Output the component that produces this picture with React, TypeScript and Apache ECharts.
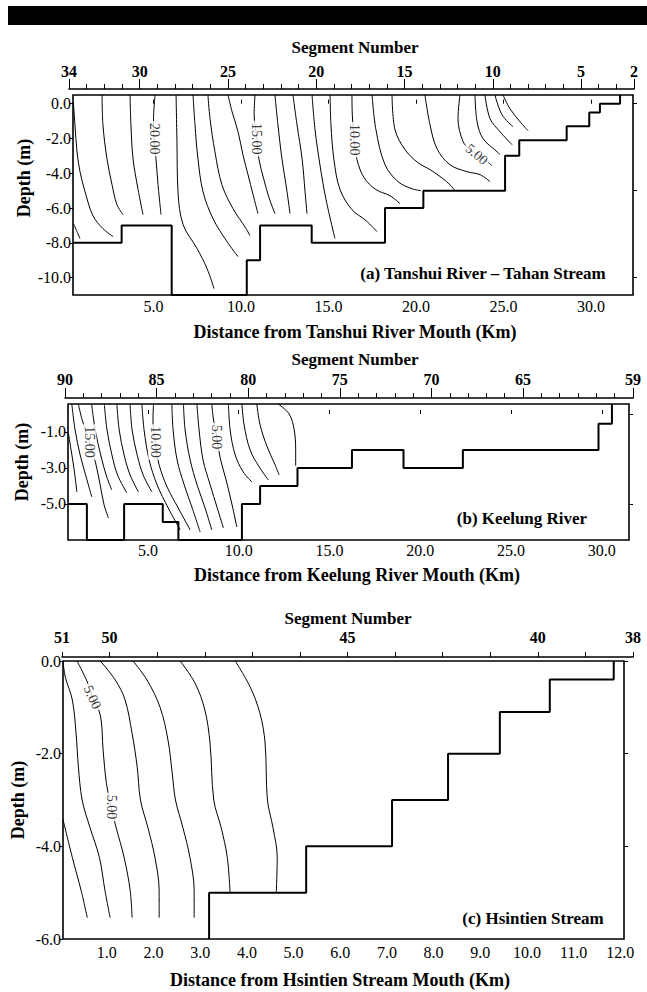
import React, { useEffect, useRef } from 'react';
import * as echarts from 'echarts';

const FONT = '"Liberation Serif", "Times New Roman", Times, serif';

// ---------------- (a) Tanshui River - Tahan Stream ----------------
const segmentsA = ['34','33','32','31','30','29','28','27','26','25','24','23','22','21','20','19','18','17','16','15','14','13','12','11','10','9','8','7','6','5','4','3','2'];
const segLabeledA = ['34','30','25','20','15','10','5','2'];
const distTicksA = [5, 10, 15, 20, 25, 30];
const depthTicksA = [0, -2, -4, -6, -8, -10];
const rightTicksA = [0, -5, -10];
// bed (river bottom) outline: [distance km, depth m], horizontal-then-vertical steps
const bedA = [[0.4,-8],[3.18,-7],[6.04,-11],[10.33,-9],[11.09,-7],[14.04,-8],[18.23,-6],[20.42,-5],[25.09,-3],[25.9,-2.1],[28.61,-1.3],[29.9,-0.5],[30.51,0],[31.66,0.5]];
const contoursA = [
  [[0.43,-6.9],[0.63,-7.36],[0.8,-7.76]],
  [[0.42,0.1],[0.51,-1.21],[0.63,-2.76],[0.8,-3.91],[1.09,-5.06],[1.54,-6.44],[2.11,-7.18],[2.69,-7.64]],
  [[2.06,0.5],[2.11,-1.21],[2.34,-3.16],[2.63,-4.66],[2.91,-5.8],[3.26,-6.38]],
  [[3.66,0.5],[3.71,-1.21],[3.83,-3.16],[4.11,-4.89],[4.4,-6.38]],
  [[5.09,0.5],[5.0,-0.92],[5.03,-2.01],[5.14,-3.16],[5.26,-4.66],[5.43,-6.38]],
  [[6.29,0.5],[6.34,-2.18],[6.4,-5.06],[6.69,-6.95],[7.49,-8.33],[8.06,-9.48],[8.46,-10.63]],
  [[7.26,0.5],[7.37,-1.21],[7.54,-3.16],[7.83,-5.06],[8.4,-6.61],[9.2,-7.93],[9.83,-8.79]],
  [[8.11,0.5],[8.23,-0.86],[8.51,-2.76],[8.91,-4.66],[9.54,-6.03],[10.29,-7.18],[10.51,-7.59]],
  [[9.26,0.5],[9.49,-0.46],[9.83,-1.61],[10.11,-2.93],[10.4,-4.08],[10.69,-5.23],[10.97,-6.32]],
  [[10.8,0.5],[10.75,-0.63],[10.91,-2.01],[11.03,-3.22],[11.31,-4.37],[11.6,-5.4],[11.94,-6.32]],
  [[11.94,0.5],[12.11,-1.21],[12.34,-3.16],[12.63,-5.06],[12.8,-6.32]],
  [[12.97,0.5],[13.2,-1.21],[13.49,-3.16],[13.66,-5.06],[13.77,-6.32]],
  [[14.06,0.5],[14.23,-1.49],[14.51,-3.51],[14.86,-5.52],[15.37,-7.76]],
  [[15.09,0.5],[15.14,-1.21],[15.31,-3.22],[15.66,-4.94],[16.34,-6.09],[17.14,-6.72],[17.77,-7.36]],
  [[16.34,0.5],[16.36,-0.63],[16.46,-2.07],[16.63,-3.22],[17.03,-4.25],[17.71,-4.94],[18.51,-5.29],[19.09,-5.75]],
  [[17.49,0.5],[17.71,-1.49],[18.23,-3.51],[18.97,-4.48],[19.77,-4.89],[20.29,-5.0]],
  [[18.63,0.5],[18.8,-1.49],[19.37,-2.64],[20.11,-3.39],[20.8,-3.79],[21.54,-4.31],[21.94,-4.66],[22.23,-5.0]],
  [[20.51,0.5],[20.8,-1.21],[21.2,-2.59],[21.94,-3.51],[22.91,-3.91],[23.66,-4.08],[24.23,-4.48]],
  [[22.51,0.5],[22.4,-0.86],[22.69,-2.18],[23.09,-2.64],[23.47,-2.91],[23.94,-3.22],[24.34,-3.56]],
  [[23.37,0.5],[23.49,-1.03],[23.83,-2.01],[24.63,-2.76],[24.8,-2.93]],
  [[23.94,0.5],[24.23,-0.86],[24.8,-1.61],[25.49,-2.36]],
  [[24.51,0.5],[24.91,-0.63],[25.54,-1.32]],
  [[24.97,0.5],[25.37,-0.29],[25.94,-1.03],[26.4,-1.55]],
];
const contourLabelsA = [
  { at: [5.03, -2.01], text: '20.00', rotate: -90 },
  { at: [10.91, -2.01], text: '15.00', rotate: -90 },
  { at: [16.46, -2.07], text: '10.00', rotate: -90 },
  { at: [23.47, -2.91], text: '5.00', rotate: -40 },
];

// ---------------- (b) Keelung River ----------------
const segmentsB = ['90','89','88','87','86','85','84','83','82','81','80','79','78','77','76','75','74','73','72','71','70','69','68','67','66','65','64','63','62','61','60','59'];
const segLabeledB = ['90','85','80','75','70','65','59'];
const distTicksB = [5, 10, 15, 20, 25, 30];
const depthTicksB = [-1, -3, -5];
const rightTicksB = [0, -5];
const bedB = [[0.6,-5],[1.64,-7],[3.69,-5],[5.82,-6],[6.68,-7],[10.18,-5],[11.18,-4],[13.24,-3],[16.24,-2],[19.08,-3],[22.35,-2],[29.82,-0.55],[30.56,0.55]];
const contoursB = [
  [[0.62,-1.06],[0.77,-2.0],[0.94,-3.11],[1.09,-4.33]],
  [[0.81,0.55],[0.99,-0.89],[1.27,-2.28],[1.6,-3.5],[1.91,-4.61]],
  [[1.17,0.55],[1.38,-0.33],[1.78,-1.56],[2.12,-2.72],[2.37,-3.94],[2.59,-5.06],[2.83,-5.78]],
  [[1.9,0.55],[2.1,-0.89],[2.4,-2.28],[2.7,-3.39],[3.01,-4.22]],
  [[2.6,0.55],[2.75,-0.89],[3.02,-2.28],[3.33,-3.39],[3.84,-4.39]],
  [[3.29,0.55],[3.42,-0.89],[3.69,-2.28],[4.02,-3.39],[4.48,-4.33]],
  [[4.02,0.55],[4.13,-0.89],[4.41,-2.28],[4.74,-3.39],[5.22,-4.33]],
  [[4.67,0.55],[4.79,-0.89],[5.07,-2.56],[5.51,-3.94],[6.12,-5.22],[6.78,-6.44]],
  [[5.31,0.55],[5.28,-0.33],[5.4,-1.56],[5.62,-2.83],[6.06,-4.06],[6.67,-5.22],[7.33,-6.44]],
  [[6.32,0.55],[6.39,-0.89],[6.61,-2.56],[7.0,-3.94],[7.44,-5.22],[7.88,-6.56]],
  [[6.96,0.55],[7.05,-0.89],[7.33,-2.56],[7.71,-3.94],[8.15,-5.22],[8.52,-6.44]],
  [[7.7,0.55],[7.82,-0.89],[8.04,-2.56],[8.43,-3.94],[8.82,-5.22],[9.16,-6.33]],
  [[8.52,0.55],[8.6,-0.22],[8.79,-1.28],[8.98,-2.44],[9.31,-3.67],[9.64,-5.06],[9.9,-6.28]],
  [[9.44,0.55],[9.53,-0.89],[9.81,-2.28],[10.25,-3.22],[10.73,-3.78]],
  [[10.18,0.55],[10.3,-0.61],[10.63,-2.0],[11.13,-2.94],[11.64,-3.67]],
  [[11.0,0.55],[11.18,-0.61],[11.57,-1.83],[11.96,-2.72],[12.23,-3.39]],
  [[12.18,0.55],[12.78,0.0],[13.06,-0.89],[13.14,-2.0],[13.14,-2.89]],
];
const contourLabelsB = [
  { at: [1.78, -1.56], text: '15.00', rotate: -90 },
  { at: [5.4, -1.56], text: '10.00', rotate: -90 },
  { at: [8.79, -1.28], text: '5.00', rotate: -90 },
];

// ---------------- (c) Hsintien Stream ----------------
const segmentsC = ['51','50','','','','','45','','','','40','','38'];
const distTicksC = [1, 2, 3, 4, 5, 6, 7, 8, 9, 10, 11, 12];
const depthTicksC = [0, -2, -4, -6];
const rightTicksC = [0, -2, -4];
// vertical-then-horizontal steps
const bedC = [[3.19,-6],[5.27,-5],[7.11,-4],[8.31,-3],[9.42,-2],[10.49,-1.1],[11.86,-0.4],[11.86,0]];
const contoursC = [
  [[0.06,-3.42],[0.26,-4.24],[0.45,-4.96],[0.58,-5.54]],
  [[0.06,0],[0.11,-0.35],[0.26,-0.84],[0.34,-1.56],[0.39,-2.29],[0.47,-3.0],[0.64,-3.6],[0.84,-4.24],[0.96,-4.96],[1.07,-5.54]],
  [[0.36,0],[0.58,-0.45],[0.69,-0.78],[0.86,-1.17],[0.92,-1.93],[0.99,-2.64],[1.09,-3.15],[1.2,-3.6],[1.37,-4.24],[1.5,-4.96],[1.54,-5.54]],
  [[0.86,0],[1.18,-0.41],[1.39,-0.84],[1.54,-1.56],[1.65,-2.29],[1.72,-3.0],[1.88,-3.6],[2.03,-4.24],[2.12,-4.96],[2.12,-5.54]],
  [[1.56,0],[1.86,-0.41],[2.14,-1.0],[2.31,-1.71],[2.4,-2.42],[2.47,-3.0],[2.63,-3.6],[2.78,-4.24],[2.87,-4.96],[2.87,-5.54]],
  [[2.57,0],[2.89,-0.48],[3.1,-1.06],[3.21,-1.77],[3.29,-3.0],[3.45,-3.6],[3.58,-4.24],[3.64,-5.0]],
  [[3.75,0],[4.07,-0.56],[4.28,-1.13],[4.39,-1.77],[4.44,-3.0],[4.56,-3.6],[4.65,-4.24],[4.63,-5.0]],
];
const contourLabelsC = [
  { at: [0.69, -0.78], text: '5.00', rotate: -65 },
  { at: [1.09, -3.15], text: '5.00', rotate: -90 },
];

const panels = [
  {
    segments: segmentsA, segLabeled: segLabeledA, distTicks: distTicksA, depthTicks: depthTicksA, rightTicks: rightTicksA,
    bed: bedA, bedStep: 'end', contours: contoursA, labels: contourLabelsA,
    xMin: 0.4, xMax: 32.4, yMin: -11, yMax: 0.5,
    box: { left: 73, top: 95, width: 560, height: 200 },
    seg: { left: 69, top: 88, width: 565 }, segMargin: 9, xLabelMargin: 3, topTicks: true, majorTicks: true,
  },
  {
    segments: segmentsB, segLabeled: segLabeledB, distTicks: distTicksB, depthTicks: depthTicksB, rightTicks: rightTicksB,
    bed: bedB, bedStep: 'end', contours: contoursB, labels: contourLabelsB,
    xMin: 0.6, xMax: 31.5, yMin: -7, yMax: 0.55,
    box: { left: 68, top: 404, width: 561, height: 136 },
    seg: { left: 65, top: 397, width: 568 }, segMargin: 10, xLabelMargin: 2, topTicks: true, majorTicks: true,
  },
  {
    segments: segmentsC, segLabeled: ['51','50','45','40','38'], distTicks: distTicksC, depthTicks: depthTicksC, rightTicks: rightTicksC,
    bed: bedC, bedStep: 'start', contours: contoursC, labels: contourLabelsC,
    xMin: 0.06, xMax: 12.08, yMin: -6, yMax: 0,
    box: { left: 63, top: 661, width: 561, height: 278 },
    seg: { left: 62, top: 656, width: 571 }, segMargin: 11, xLabelMargin: 5, topTicks: false, majorTicks: false,
  },
];

const titles = [
  { text: 'Segment Number', x: 355, y: 47, size: 17, rot: 0 },
  { text: 'Distance from Tanshui River Mouth (Km)', x: 355, y: 332, size: 18, rot: 0 },
  { text: 'Depth (m)', x: 24, y: 178, size: 18, rot: Math.PI / 2 },
  { text: '(a) Tanshui River \u2013 Tahan Stream', x: 483, y: 273, size: 17, rot: 0 },
  { text: 'Segment Number', x: 355, y: 359, size: 17, rot: 0 },
  { text: 'Distance from Keelung River Mouth (Km)', x: 357, y: 575, size: 18, rot: 0 },
  { text: 'Depth (m)', x: 22, y: 462, size: 18, rot: Math.PI / 2 },
  { text: '(b) Keelung River', x: 522, y: 518, size: 17, rot: 0 },
  { text: 'Segment Number', x: 348, y: 618, size: 17, rot: 0 },
  { text: 'Distance from Hsintien Stream Mouth (Km)', x: 340, y: 980, size: 18, rot: 0 },
  { text: 'Depth (m)', x: 18, y: 800, size: 18, rot: Math.PI / 2 },
  { text: '(c) Hsintien Stream', x: 533, y: 918, size: 17, rot: 0 },
];

function buildOption() {
  const grid: any[] = [];
  const xAxis: any[] = [];
  const yAxis: any[] = [];
  const series: any[] = [];
  const black = { color: '#000', width: 1 };

  panels.forEach((p) => {
    const gp = grid.length;
    grid.push({ ...p.box, show: true, borderColor: '#000', borderWidth: 1.6, backgroundColor: 'transparent' });
    const gs = grid.length;
    grid.push({ left: p.seg.left, top: p.seg.top, width: p.seg.width, height: 1, show: false });

    const xb = xAxis.length;
    xAxis.push({
      gridIndex: gp, type: 'value', position: 'bottom', min: p.xMin, max: p.xMax,
      axisLine: { show: false }, splitLine: { show: false }, axisTick: { show: false },
      axisLabel: { customValues: p.distTicks, formatter: (v: number) => v.toFixed(1), margin: p.xLabelMargin, fontFamily: FONT, fontSize: 16, color: '#000' },
    });
    xAxis.push({
      gridIndex: gp, type: 'value', position: 'top', min: p.xMin, max: p.xMax,
      axisLine: { show: false }, splitLine: { show: false }, axisLabel: { show: false },
      axisTick: { show: p.topTicks, customValues: p.distTicks, length: 4, lineStyle: black },
    });
    xAxis.push({
      gridIndex: gs, type: 'category', position: 'top', boundaryGap: false, data: p.segments,
      axisLine: { show: true, lineStyle: { color: '#000', width: 1.5 } },
      axisTick: { show: true, interval: 0, length: 5, lineStyle: black },
      axisLabel: {
        interval: (_i: number, v: string) => p.segLabeled.includes(v),
        margin: p.segMargin, fontFamily: FONT, fontSize: 16, fontWeight: 'bold', color: '#000',
      },
      splitLine: { show: false },
    });
    if (p.majorTicks) {
      xAxis.push({
        gridIndex: gs, type: 'category', position: 'top', boundaryGap: false, data: p.segments,
        axisLine: { show: false }, axisLabel: { show: false }, splitLine: { show: false },
        axisTick: { show: true, interval: (_i: number, v: string) => p.segLabeled.includes(v), length: 9, lineStyle: black },
      });
    }

    const yl = yAxis.length;
    yAxis.push({
      gridIndex: gp, type: 'value', min: p.yMin, max: p.yMax,
      axisLine: { show: false }, splitLine: { show: false },
      axisTick: { show: true, customValues: p.depthTicks, length: 3, lineStyle: black },
      axisLabel: { customValues: p.depthTicks, formatter: (v: number) => v.toFixed(1), margin: 2, fontFamily: FONT, fontSize: 16, color: '#000' },
    });
    yAxis.push({
      gridIndex: gp, type: 'value', position: 'right', min: p.yMin, max: p.yMax,
      axisLine: { show: false }, splitLine: { show: false }, axisLabel: { show: false },
      axisTick: { show: true, customValues: p.rightTicks, length: 4, lineStyle: black },
    });
    yAxis.push({ gridIndex: gs, type: 'value', show: false });

    p.contours.forEach((c) => {
      series.push({
        type: 'line', xAxisIndex: xb, yAxisIndex: yl, data: c, showSymbol: false, smooth: 0.35,
        lineStyle: { color: '#000', width: 1 }, silent: true, z: 2,
      });
    });
    series.push({
      type: 'line', xAxisIndex: xb, yAxisIndex: yl, data: p.bed, step: p.bedStep, showSymbol: false,
      lineStyle: { color: '#000', width: 2 }, silent: true, z: 3,
    });
    const labelStyle = { show: true, position: 'inside', color: '#000', fontFamily: FONT, fontSize: 14, backgroundColor: '#fff', padding: [0, 2] };
    series.push({
      type: 'scatter', xAxisIndex: xb, yAxisIndex: yl, symbol: 'rect', symbolSize: 0,
      itemStyle: { color: '#000' }, silent: true, z: 5,
      label: labelStyle,
      data: p.labels.map((l) => ({ value: l.at, label: { ...labelStyle, formatter: l.text, rotate: l.rotate } })),
    });
  });

  const graphic: any[] = [
    { type: 'rect', shape: { x: 8, y: 6, width: 639, height: 19 }, style: { fill: '#000' } },
    ...titles.map((t) => ({
      type: 'text', x: t.x, y: t.y, rotation: t.rot,
      style: { text: t.text, fill: '#000', fontFamily: FONT, fontSize: t.size, fontWeight: 'bold', align: 'center', verticalAlign: 'middle' },
    })),
  ];

  return { animation: false, backgroundColor: '#fff', grid, xAxis, yAxis, series, graphic };
}

export default function App() {
  const ref = useRef<HTMLDivElement>(null);
  useEffect(() => {
    if (!ref.current) return;
    const chart = echarts.init(ref.current, undefined, { renderer: 'svg' });
    chart.setOption(buildOption() as any);
    return () => chart.dispose();
  }, []);
  return <div ref={ref} style={{ position: 'absolute', left: 0, top: 0, width: 647, height: 992, background: '#fff' }} />;
}
